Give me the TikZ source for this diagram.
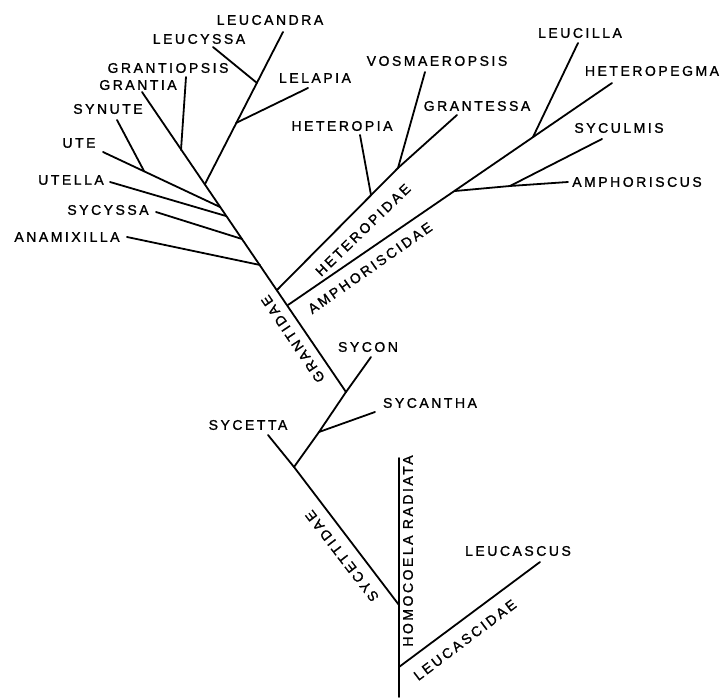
\documentclass[tikz,border=0pt]{standalone}
\usepackage{fontspec}
\newfontfamily\labfont[LetterSpace=18,FakeBold=1.2]{Liberation Sans}
\begin{document}
\begin{tikzpicture}[x=1pt,y=-1pt,
  br/.style={line width=1.8pt,line cap=round},
  lab/.style={font=\labfont\fontsize{14}{14}\selectfont,inner sep=0pt},
  fam/.style={font=\labfont\fontsize{14}{14}\selectfont,inner sep=0pt}]
\useasboundingbox[fill=white] (0,0) rectangle (721,698);
% junctions and ends
\coordinate (root) at (399,697);
\coordinate (trunkTop) at (399,458);
\coordinate (sycJ) at (399,605);
\coordinate (leucJ) at (399,667);
\coordinate (leucEnd) at (540,562);
\coordinate (sycettaJ) at (294,467);
\coordinate (sycettaEnd) at (268,435);
\coordinate (sycanthaJ) at (319,432);
\coordinate (sycanthaEnd) at (375,412);
\coordinate (syconJ) at (346,392);
\coordinate (syconEnd) at (371,357);
\coordinate (amphJ) at (288,305);
\coordinate (hetJ) at (277,290);
\coordinate (anamJ) at (260,265);
\coordinate (sycyJ) at (242,239);
\coordinate (utellaJ) at (226,216);
\coordinate (uteJ) at (220,207);
\coordinate (leucandraJ) at (205,184);
\coordinate (grantiopsisJ) at (181,150);
\coordinate (grantiaEnd) at (142,92);
\coordinate (grantiopsisEnd) at (186,77);
\coordinate (uteEnd) at (103,152);
\coordinate (synuteJ) at (144,171);
\coordinate (synuteEnd) at (117,120);
\coordinate (utellaEnd) at (110,182);
\coordinate (sycyEnd) at (156,212);
\coordinate (anamEnd) at (127,237);
\coordinate (lelapiaJ) at (236,123);
\coordinate (leucyssaJ) at (257,83);
\coordinate (leucandraEnd) at (283,32);
\coordinate (lelapiaEnd) at (308,88);
\coordinate (leucyssaEnd) at (213,47);
\coordinate (heteropiaJ) at (371,195);
\coordinate (vosJ) at (398,168);
\coordinate (heteropiaEnd) at (360,135);
\coordinate (vosEnd) at (425,72);
\coordinate (grantessaEnd) at (457,115);
\coordinate (amphJ2) at (455,191);
\coordinate (leucillaJ) at (533,137);
\coordinate (heteropegmaEnd) at (612,83);
\coordinate (leucillaEnd) at (578,43);
\coordinate (syculmisJ) at (510,186);
\coordinate (syculmisEnd) at (602,139);
\coordinate (amphorEnd) at (568,182);
% branches
\draw[br] (root) -- (trunkTop);
\draw[br] (leucJ) -- (leucEnd);
\draw[br] (sycJ) -- (sycettaJ) -- (sycettaEnd);
\draw[br] (sycettaJ) -- (sycanthaJ) -- (syconJ) -- (syconEnd);
\draw[br] (sycanthaJ) -- (sycanthaEnd);
\draw[br] (syconJ) -- (grantiaEnd);
\draw[br] (grantiopsisJ) -- (grantiopsisEnd);
\draw[br] (uteJ) -- (uteEnd);
\draw[br] (synuteJ) -- (synuteEnd);
\draw[br] (utellaJ) -- (utellaEnd);
\draw[br] (sycyJ) -- (sycyEnd);
\draw[br] (anamJ) -- (anamEnd);
\draw[br] (leucandraJ) -- (leucandraEnd);
\draw[br] (lelapiaJ) -- (lelapiaEnd);
\draw[br] (leucyssaJ) -- (leucyssaEnd);
\draw[br] (hetJ) -- (vosJ) -- (vosEnd);
\draw[br] (vosJ) -- (grantessaEnd);
\draw[br] (heteropiaJ) -- (heteropiaEnd);
\draw[br] (amphJ) -- (heteropegmaEnd);
\draw[br] (leucillaJ) -- (leucillaEnd);
\draw[br] (amphJ2) -- (syculmisJ) -- (amphorEnd);
\draw[br] (syculmisJ) -- (syculmisEnd);
% labels
\node[lab] (Leucandra) at (270,20) {LEUCANDRA};
\node[lab] (Leucyssa) at (199,39) {LEUCYSSA};
\node[lab] (Grantiopsis) at (168,68) {GRANTIOPSIS};
\node[lab] (Grantia) at (138,85) {GRANTIA};
\node[lab] (Lelapia) at (315,78) {LELAPIA};
\node[lab] (Synute) at (108,109) {SYNUTE};
\node[lab] (Ute) at (79,143) {UTE};
\node[lab] (Utella) at (71,180) {UTELLA};
\node[lab] (Sycyssa) at (108,210) {SYCYSSA};
\node[lab] (Anamixilla) at (67,237) {ANAMIXILLA};
\node[lab] (Heteropia) at (342,126) {HETEROPIA};
\node[lab] (Vosmaeropsis) at (437,61) {VOSMAEROPSIS};
\node[lab] (Grantessa) at (477,106) {GRANTESSA};
\node[lab] (Leucilla) at (580,33) {LEUCILLA};
\node[lab] (Heteropegma) at (652,71) {HETEROPEGMA};
\node[lab] (Syculmis) at (619,128) {SYCULMIS};
\node[lab] (Amphoriscus) at (637,182) {AMPHORISCUS};
\node[lab] (Sycon) at (368,347) {SYCON};
\node[lab] (Sycantha) at (430,403) {SYCANTHA};
\node[lab] (Sycetta) at (248,425) {SYCETTA};
\node[lab] (Leucascus) at (518,551) {LEUCASCUS};
% family labels
\node[fam,rotate=44] (Heteropidae) at (363,230) {HETEROPIDAE};
\node[fam,rotate=35] (Amphoriscidae) at (370,268) {AMPHORISCIDAE};
\node[fam,rotate=124] (Grantidae) at (293,339) {GRANTIDAE};
\node[fam,rotate=127.5] (Sycettidae) at (342,556) {SYCETTIDAE};
\node[fam,rotate=90] (Homocoela) at (408,551) {HOMOCOELA RADIATA};
\node[fam,rotate=37] (Leucascidae) at (465,640) {LEUCASCIDAE};
\end{tikzpicture}
\end{document}
